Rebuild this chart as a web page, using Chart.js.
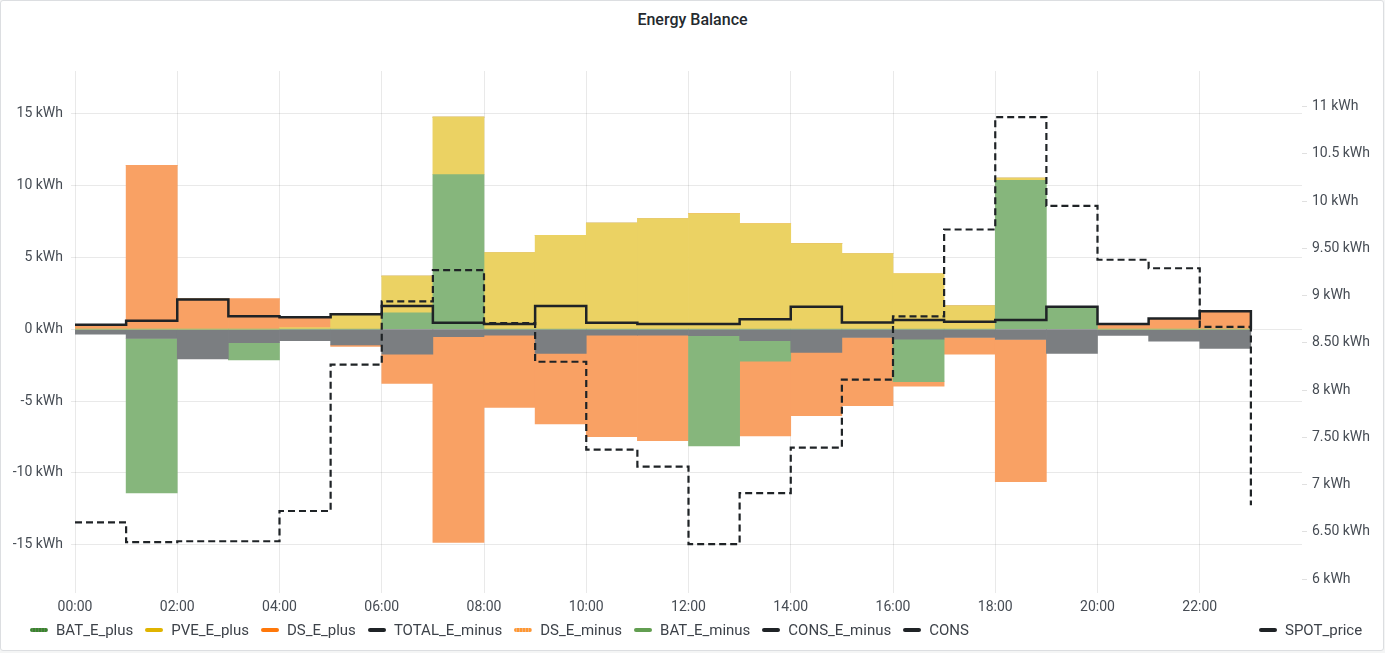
<!DOCTYPE html>
<html>
<head>
<meta charset="utf-8">
<title>Energy Balance</title>
<script src="https://cdn.jsdelivr.net/npm/chart.js@4.4.1/dist/chart.umd.min.js"></script>
<style>
  html, body { margin: 0; padding: 0; background: #f4f5f5; }
  body { width: 1385px; height: 653px; overflow: hidden; position: relative; font-family: Roboto, "Noto Sans", sans-serif; }
  #panel { position: absolute; left: 0; top: 0; width: 1384px; height: 651px; box-sizing: border-box;
           background: #fff; border: 1px solid #dcdee1; border-radius: 3px; }
  #title { position: absolute; left: 0; top: 10px; width: 1385px; text-align: center; font-size: 16px;
           font-weight: 500; color: #24292e; line-height: 20px; }
  #chart { position: absolute; left: 0; top: 0; }
  .legend { position: absolute; top: 621px; height: 18px; display: flex; align-items: center; }
  .item { display: flex; align-items: center; margin-right: 12px; font-size: 15px; color: #3d4249; white-space: nowrap; }
  .swatch { width: 18px; height: 4px; border-radius: 2px; margin-right: 8px; }
</style>
</head>
<body>
<div id="panel"></div>
<div id="title">Energy Balance</div>
<canvas id="chart" width="1385" height="653"></canvas>
<div class="legend" id="legendLeft" style="left:30px"></div>
<div class="legend" id="legendRight" style="left:1259px"></div>

<script>
// ---- data (hourly, step after) ----
const hours = [0, 1, 2, 3, 4, 5, 6, 7, 8, 9, 10, 11, 12, 13, 14, 15, 16, 17, 18, 19, 20, 21, 22, 23];

// filled blocks 00:00 .. 22:00 (each holds for one hour)
const BAT_E_plus   = [0, 0, 0, 0, 0, 0, 1.13, 10.74, 0, 0, 0, 0, 0, 0, 0, 0, 0, 0, 10.35, 1.55, 0, 0, 0];
const PVE_E_plus   = [0, 0, 0, 0, 0.1, 1.04, 2.55, 4.0, 5.33, 6.53, 7.38, 7.69, 8.03, 7.34, 5.95, 5.26, 3.87, 1.62, 0.16, 0, 0, 0, 0];
const DS_E_plus    = [0.22, 11.39, 2.1, 2.1, 0.75, 0, 0, 0, 0, 0, 0, 0, 0, 0, 0, 0, 0, 0, 0, 0, 0.3, 0.74, 1.2];
const CONS_E_minus = [-0.35, -0.65, -2.08, -0.95, -0.8, -1.1, -1.74, -0.53, -0.42, -1.69, -0.42, -0.42, -0.46, -0.81, -1.62, -0.58, -0.7, -0.58, -0.72, -1.69, -0.44, -0.83, -1.34];
const BAT_E_minus  = [0, -10.74, 0, -1.2, 0, 0, 0, 0, 0, 0, 0, 0, -7.67, -1.41, 0, 0, -2.96, 0, 0, 0, 0, 0, 0];
const DS_E_minus   = [0, 0, 0, 0, 0, -0.1, -2.03, -14.31, -5.02, -4.91, -7.06, -7.34, 0, -5.21, -4.4, -4.74, -0.3, -1.16, -9.88, 0, 0, 0, 0];

// lines 00:00 .. 23:00
const CONS         = [0.3, 0.58, 2.06, 0.9, 0.83, 1.04, 1.6, 0.44, 0.35, 1.6, 0.44, 0.35, 0.35, 0.69, 1.55, 0.46, 0.63, 0.51, 0.63, 1.55, 0.35, 0.74, 1.25, 0];
const TOTAL_E_minus = [];
const SPOT_price   = [6.6, 6.39, 6.4, 6.4, 6.72, 8.27, 8.94, 9.27, 8.71, 8.3, 7.37, 7.19, 6.37, 6.91, 7.39, 8.11, 8.78, 9.7, 10.89, 9.95, 9.38, 9.29, 8.67, 6.78];

// ticks
const xTickValues = [0, 2, 4, 6, 8, 10, 12, 14, 16, 18, 20, 22];
const xTickLabels = ["00:00", "02:00", "04:00", "06:00", "08:00", "10:00", "12:00", "14:00", "16:00", "18:00", "20:00", "22:00"];
const leftTickValues = [-15, -10, -5, 0, 5, 10, 15];
const leftTickLabels = ["-15 kWh", "-10 kWh", "-5 kWh", "0 kWh", "5 kWh", "10 kWh", "15 kWh"];
const rightTickValues = [6, 6.5, 7, 7.5, 8, 8.5, 9, 9.5, 10, 10.5, 11];
const rightTickLabels = ["6 kWh", "6.50 kWh", "7 kWh", "7.50 kWh", "8 kWh", "8.50 kWh", "9 kWh", "9.50 kWh", "10 kWh", "10.5 kWh", "11 kWh"];

// legend order as in the panel
const legendLeft = ["BAT_E_plus", "PVE_E_plus", "DS_E_plus", "TOTAL_E_minus", "DS_E_minus", "BAT_E_minus", "CONS_E_minus", "CONS"];
const legendRight = ["SPOT_price"];

// ---- styles ----
const LINE = "#1f2326";
const legendColors = {
  BAT_E_plus: "repeating-linear-gradient(90deg, #37872d 0 2px, #5f7f50 2px 3px)",
  PVE_E_plus: "#e0b400",
  DS_E_plus: "#ff780a",
  TOTAL_E_minus: LINE,
  DS_E_minus: "repeating-linear-gradient(90deg, #ff9830 0 2px, #f5b07a 2px 3px)",
  BAT_E_minus: "#629e51",
  CONS_E_minus: LINE,
  CONS: LINE,
  SPOT_price: LINE
};

const blockPts = arr => arr.map((v, i) => ({ x: hours[i] + 0.5, y: v }));
const linePts = arr => arr.map((v, i) => ({ x: hours[i], y: v }));

function block(label, arr, color) {
  return {
    type: "bar", label: label, data: blockPts(arr), stack: "energy", order: 1,
    backgroundColor: color, borderWidth: 0,
    barPercentage: 1, categoryPercentage: 1, yAxisID: "y"
  };
}

const gridColor = "rgba(0,0,0,0.085)";

new Chart(document.getElementById("chart"), {
  type: "bar",
  data: {
    datasets: [
      // Chart.js "before" = hold previous value, then jump (Grafana step-after)
      { type: "line", label: "CONS", data: linePts(CONS), stepped: "before", borderColor: LINE,
        borderWidth: 2.5, pointRadius: 0, fill: false, order: 0, yAxisID: "y" },
      { type: "line", label: "TOTAL_E_minus", data: linePts(TOTAL_E_minus), stepped: "before", borderColor: LINE,
        borderWidth: 2.5, pointRadius: 0, fill: false, order: 0, yAxisID: "y" },
      { type: "line", label: "SPOT_price", data: linePts(SPOT_price), stepped: "before", borderColor: LINE,
        borderWidth: 2.2, borderDash: [7, 4], pointRadius: 0, fill: false, order: 0, yAxisID: "y2" },
      block("BAT_E_plus", BAT_E_plus, "#86b67c"),
      block("PVE_E_plus", PVE_E_plus, "#ebd263"),
      block("DS_E_plus", DS_E_plus, "#f9a164"),
      block("CONS_E_minus", CONS_E_minus, "#7b7e81"),
      block("BAT_E_minus", BAT_E_minus, "#86b67c"),
      block("DS_E_minus", DS_E_minus, "#f9a164")
    ]
  },
  options: {
    responsive: false,
    animation: false,
    devicePixelRatio: 1,
    layout: { padding: { top: 71, bottom: 30, left: 0, right: 0 } },
    plugins: { legend: { display: false }, tooltip: { enabled: false }, title: { display: false } },
    scales: {
      x: {
        type: "linear", min: 0, max: 24, offset: false,
        border: { display: false },
        grid: { color: gridColor, drawTicks: false, offset: false },
        afterBuildTicks: s => { s.ticks = xTickValues.map(v => ({ value: v })); },
        afterFit: s => { s.height = 30; },
        ticks: {
          autoSkip: false, maxRotation: 0, padding: 6, color: "#464c54",
          font: { family: "Roboto", size: 14 },
          callback: (v, i) => xTickLabels[i]
        }
      },
      y: {
        position: "left", min: -18.35, max: 17.95,
        border: { display: false },
        grid: { color: gridColor, drawTicks: true, tickLength: 4 },
        afterBuildTicks: s => { s.ticks = leftTickValues.map(v => ({ value: v })); },
        afterFit: s => { s.width = 75; },
        ticks: {
          padding: 8, color: "#464c54", font: { family: "Roboto", size: 14 },
          callback: (v, i) => leftTickLabels[i]
        }
      },
      y2: {
        position: "right", min: 5.852, max: 11.378,
        border: { display: false },
        grid: { drawOnChartArea: false, drawTicks: true, tickLength: 5, color: "rgba(0,0,0,0.12)" },
        afterBuildTicks: s => { s.ticks = rightTickValues.map(v => ({ value: v })); },
        afterFit: s => { s.width = 83; },
        ticks: {
          padding: 5, color: "#464c54", font: { family: "Roboto", size: 14 },
          callback: (v, i) => rightTickLabels[i]
        }
      }
    }
  }
});

// HTML legend (Grafana style: left group and right-axis group)
function fillLegend(id, names) {
  const box = document.getElementById(id);
  names.forEach(n => {
    const item = document.createElement("div");
    item.className = "item";
    const sw = document.createElement("span");
    sw.className = "swatch";
    sw.style.background = legendColors[n];
    const tx = document.createElement("span");
    tx.textContent = n;
    item.appendChild(sw);
    item.appendChild(tx);
    box.appendChild(item);
  });
}
fillLegend("legendLeft", legendLeft);
fillLegend("legendRight", legendRight);
</script>
</body>
</html>
